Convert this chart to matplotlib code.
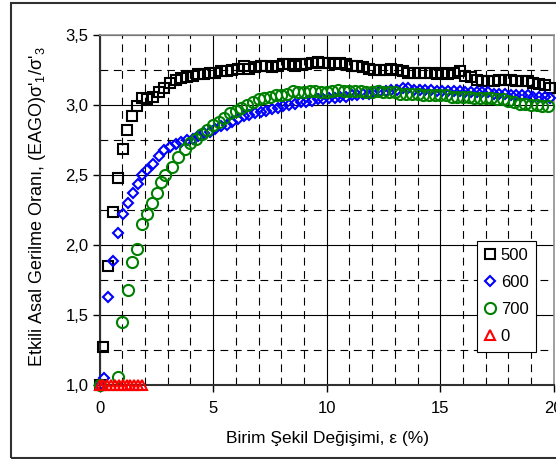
import matplotlib
matplotlib.use("Agg")
import matplotlib.pyplot as plt
from matplotlib.patches import Rectangle
from matplotlib.ticker import MultipleLocator, FuncFormatter

plt.rcParams['font.family'] = ['Liberation Sans', 'DejaVu Sans']
plt.rcParams['mathtext.fontset'] = 'custom'
plt.rcParams['mathtext.rm'] = 'Liberation Sans'
plt.rcParams['mathtext.it'] = 'Liberation Sans'

# ---------- DATA ----------
eps_500 = [0.0, 0.16, 0.39, 0.61, 0.80, 1.04, 1.23, 1.43, 1.64, 1.86,
           2.10, 2.35, 2.60, 2.85, 3.10, 3.35, 3.60, 3.85, 4.10, 4.35,
           4.60, 4.85, 5.10, 5.35, 5.60, 5.85, 6.10, 6.35, 6.60, 6.85,
           7.10, 7.35, 7.60, 7.85, 8.10, 8.35, 8.60, 8.85, 9.10, 9.35,
           9.60, 9.85, 10.10, 10.35, 10.60, 10.85, 11.10, 11.35, 11.60, 11.85,
           12.10, 12.35, 12.60, 12.85, 13.10, 13.35, 13.60, 13.85, 14.10, 14.35,
           14.60, 14.85, 15.10, 15.35, 15.60, 15.85, 16.10, 16.35, 16.60, 16.85,
           17.10, 17.35, 17.60, 17.85, 18.10, 18.35, 18.60, 18.85, 19.10, 19.35,
           19.60, 19.85]
ratio_500 = [1.00, 1.27, 1.85, 2.24, 2.48, 2.69, 2.82, 2.92, 2.99, 3.05,
             3.04, 3.06, 3.09, 3.12, 3.16, 3.18, 3.19, 3.20, 3.21, 3.22,
             3.22, 3.23, 3.23, 3.24, 3.24, 3.25, 3.26, 3.28, 3.26, 3.27,
             3.28, 3.28, 3.27, 3.28, 3.29, 3.29, 3.28, 3.29, 3.29, 3.30,
             3.31, 3.30, 3.30, 3.29, 3.30, 3.29, 3.28, 3.28, 3.27, 3.26,
             3.25, 3.25, 3.25, 3.26, 3.25, 3.24, 3.23, 3.23, 3.23, 3.23,
             3.23, 3.22, 3.23, 3.22, 3.23, 3.24, 3.21, 3.20, 3.18, 3.17,
             3.17, 3.17, 3.18, 3.18, 3.18, 3.17, 3.17, 3.17, 3.16, 3.15,
             3.14, 3.12]

eps_600 = [0.0, 0.20, 0.39, 0.61, 0.83, 1.02, 1.24, 1.46, 1.68, 1.86,
           2.10, 2.35, 2.60, 2.85, 3.10, 3.35, 3.60, 3.85, 4.10, 4.35,
           4.60, 4.85, 5.10, 5.35, 5.60, 5.85, 6.10, 6.35, 6.60, 6.85,
           7.10, 7.35, 7.60, 7.85, 8.10, 8.35, 8.60, 8.85, 9.10, 9.35,
           9.60, 9.85, 10.10, 10.35, 10.60, 10.85, 11.10, 11.35, 11.60, 11.85,
           12.10, 12.35, 12.60, 12.85, 13.10, 13.35, 13.60, 13.85, 14.10, 14.35,
           14.60, 14.85, 15.10, 15.35, 15.60, 15.85, 16.10, 16.35, 16.60, 16.85,
           17.10, 17.35, 17.60, 17.85, 18.10, 18.35, 18.60, 18.85, 19.10, 19.35,
           19.60, 19.85]
ratio_600 = [1.00, 1.05, 1.63, 1.89, 2.09, 2.22, 2.30, 2.37, 2.44, 2.50,
             2.54, 2.58, 2.64, 2.68, 2.70, 2.72, 2.74, 2.75, 2.76, 2.78,
             2.80, 2.81, 2.83, 2.85, 2.86, 2.88, 2.90, 2.92, 2.93, 2.94,
             2.95, 2.96, 2.97, 2.98, 2.99, 3.00, 3.01, 3.02, 3.02, 3.03,
             3.04, 3.04, 3.05, 3.05, 3.06, 3.06, 3.07, 3.07, 3.08, 3.08,
             3.09, 3.10, 3.10, 3.11, 3.11, 3.12, 3.12, 3.11, 3.11, 3.11,
             3.11, 3.10, 3.10, 3.10, 3.10, 3.10, 3.09, 3.09, 3.09, 3.09,
             3.09, 3.08, 3.08, 3.08, 3.07, 3.07, 3.07, 3.07, 3.06, 3.06,
             3.06, 3.05]

eps_700 = [0.0, 0.83, 1.01, 1.24, 1.45, 1.67, 1.86, 2.08, 2.30, 2.52,
           2.70, 2.89, 3.18, 3.47, 3.77, 4.00, 4.25, 4.50, 4.75, 5.00,
           5.25, 5.50, 5.75, 6.00, 6.25, 6.50, 6.75, 7.00, 7.25, 7.50,
           7.75, 8.00, 8.25, 8.50, 8.75, 9.00, 9.25, 9.50, 9.75, 10.00,
           10.25, 10.50, 10.75, 11.00, 11.25, 11.50, 11.75, 12.00, 12.25, 12.50,
           12.75, 13.00, 13.25, 13.50, 13.75, 14.00, 14.25, 14.50, 14.75, 15.00,
           15.25, 15.50, 15.75, 16.00, 16.25, 16.50, 16.75, 17.00, 17.25, 17.50,
           17.75, 18.00, 18.25, 18.50, 18.75, 19.00, 19.25, 19.50, 19.75]
ratio_700 = [1.00, 1.06, 1.45, 1.68, 1.88, 1.97, 2.15, 2.22, 2.30, 2.37,
             2.45, 2.50, 2.56, 2.63, 2.69, 2.73, 2.76, 2.79, 2.82, 2.86,
             2.88, 2.91, 2.94, 2.96, 2.98, 3.00, 3.02, 3.04, 3.05, 3.06,
             3.07, 3.07, 3.08, 3.10, 3.09, 3.09, 3.10, 3.10, 3.09, 3.09,
             3.10, 3.11, 3.10, 3.10, 3.10, 3.10, 3.09, 3.09, 3.10, 3.09,
             3.09, 3.09, 3.08, 3.08, 3.08, 3.08, 3.07, 3.07, 3.07, 3.07,
             3.07, 3.06, 3.06, 3.06, 3.06, 3.05, 3.05, 3.05, 3.05, 3.04,
             3.04, 3.03, 3.02, 3.01, 3.01, 3.00, 3.00, 2.99, 2.99]

eps_0 = [0.0, 0.17, 0.34, 0.51, 0.68, 0.85, 1.02, 1.19, 1.36, 1.53, 1.70, 1.87]
ratio_0 = [1.00, 1.00, 1.00, 1.00, 1.00, 1.00, 1.00, 1.00, 1.00, 1.00, 1.00, 1.00]

x_label = 'Birim Şekil Değişimi, ε (%)'
y_label = "Etkili Asal Gerilme Oranı, (EAGO)σ'$_1$/σ'$_3$"

# ---------- PLOT ----------
fig = plt.figure(figsize=(5.56, 4.59), dpi=100)
ax = fig.add_axes([0.179, 0.1606, 0.817, 0.7631])

ax.plot(eps_500, ratio_500, 's', ms=7, mfc='none', mec='black', mew=1.5,
        label='500', clip_on=False, zorder=3)
ax.plot(eps_600, ratio_600, 'D', ms=5, mfc='none', mec='#0000FF', mew=1.5,
        label='600', clip_on=False, zorder=3)
ax.plot(eps_700, ratio_700, 'o', ms=8, mfc='none', mec='#008000', mew=1.5,
        label='700', clip_on=False, zorder=3)
ax.plot(eps_0, ratio_0, '^', ms=7, mfc='none', mec='#FF0000', mew=1.5,
        label='0', clip_on=False, zorder=4)

ax.set_xlim(0, 20)
ax.set_ylim(1.0, 3.5)
ax.xaxis.set_major_locator(MultipleLocator(5))
ax.xaxis.set_minor_locator(MultipleLocator(1))
ax.yaxis.set_major_locator(MultipleLocator(0.5))
ax.yaxis.set_minor_locator(MultipleLocator(0.25))
ax.yaxis.set_major_formatter(FuncFormatter(lambda v, p: ('%.1f' % v).replace('.', ',')))

ax.grid(which='major', color='black', lw=0.8, ls='-')
ax.grid(which='minor', color='black', lw=0.8, ls=(0, (7, 5)))
ax.set_axisbelow(True)

ax.tick_params(which='major', direction='out', length=5, width=1, labelsize=12,
               colors='black')
ax.tick_params(axis='x', which='major', pad=6)
ax.tick_params(axis='y', which='major', pad=3)
ax.tick_params(which='minor', length=0)

for s in ['left', 'bottom']:
    ax.spines[s].set_color('#303030')
    ax.spines[s].set_linewidth(1.5)
for s in ['top', 'right']:
    ax.spines[s].set_color('#909090')
    ax.spines[s].set_linewidth(1.2)

fig.text(327 / 556, 1 - 438 / 459, x_label, ha='center', va='center', fontsize=12.5)
fig.text(38 / 556, 1 - 207 / 459, y_label, ha='center', va='center',
         rotation=90, fontsize=13)

leg = ax.legend(loc='upper left', bbox_to_anchor=(476.7 / 556, 1 - 240.7 / 459),
                bbox_transform=fig.transFigure, fontsize=12, frameon=True,
                fancybox=False, edgecolor='black', framealpha=1,
                handlelength=0.7, handletextpad=0.3, labelspacing=0.72,
                borderpad=0.45, borderaxespad=0)
leg.get_frame().set_linewidth(0.8)

fig.patches.append(Rectangle((11 / 556, 1.5 / 459), 1.2, 1 - 4 / 459,
                             transform=fig.transFigure, fill=False,
                             edgecolor='#303030', lw=1.5))

fig.savefig('out.png', dpi=100)
